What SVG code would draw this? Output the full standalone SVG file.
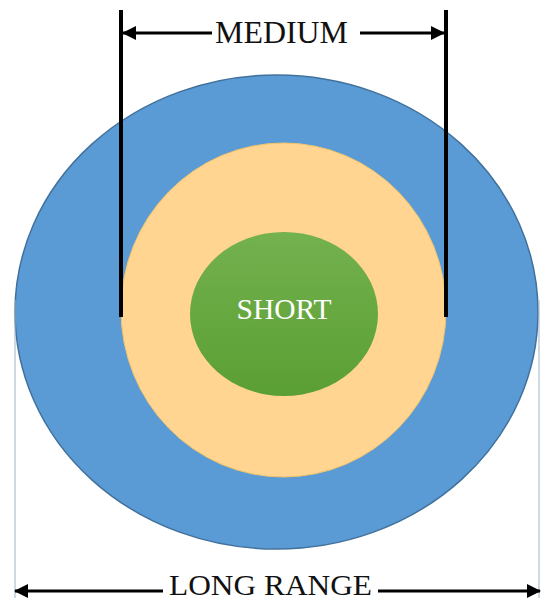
<svg xmlns="http://www.w3.org/2000/svg" width="541" height="600" viewBox="0 0 541 600">
<defs>
<linearGradient id="gGreen" x1="0" y1="0" x2="0" y2="1">
<stop offset="0" stop-color="#74b14f"/>
<stop offset="1" stop-color="#5a9f33"/>
</linearGradient>
<marker id="ah" viewBox="0 0 14 14" refX="13" refY="7" markerWidth="14" markerHeight="14" markerUnits="userSpaceOnUse" orient="auto-start-reverse">
<path d="M0,0 L14,7 L0,14 Z" fill="#000"/>
</marker>
<style>
.lbl{font-family:"Liberation Serif","Times New Roman",serif;fill:#111;}
.arr{stroke:#000;stroke-width:3;fill:none;}
.thin{stroke:#9fb3c8;stroke-width:1;}
.bar{stroke:#000;stroke-width:4;}
</style>
</defs>
<rect width="541" height="600" fill="#fff"/>
<g id="long">
<ellipse cx="276.5" cy="312" rx="261.5" ry="237" fill="#5b9bd5" stroke="#41719c" stroke-width="1.5"/>
</g>
<g id="medium">
<ellipse cx="283.5" cy="310" rx="162.5" ry="167" fill="#ffd591" stroke="#f4c46a" stroke-width="1"/>
</g>
<g id="short">
<ellipse cx="284" cy="314" rx="94" ry="82" fill="url(#gGreen)"/>
<text x="284" y="319" text-anchor="middle" font-family="Liberation Serif, Times New Roman, serif" font-size="29" fill="#fff" textLength="95" lengthAdjust="spacingAndGlyphs">SHORT</text>
</g>
<g id="connectors">
<line class="bar" x1="121" y1="10" x2="121" y2="317"/>
<line class="bar" x1="446" y1="10" x2="446" y2="317"/>
<line class="thin" x1="15" y1="300" x2="15" y2="598"/>
<line class="thin" x1="539" y1="300" x2="539" y2="598"/>
<line class="arr" x1="212" y1="33" x2="123" y2="33" marker-end="url(#ah)"/>
<line class="arr" x1="360" y1="33" x2="444" y2="33" marker-end="url(#ah)"/>
<line class="arr" x1="163" y1="591" x2="15" y2="591" marker-end="url(#ah)"/>
<line class="arr" x1="378" y1="591" x2="540" y2="591" marker-end="url(#ah)"/>
</g>
<text class="lbl" x="281.5" y="43" text-anchor="middle" font-size="31" textLength="133" lengthAdjust="spacingAndGlyphs">MEDIUM</text>
<text class="lbl" x="270.5" y="595" text-anchor="middle" font-size="30" textLength="203" lengthAdjust="spacingAndGlyphs">LONG RANGE</text>
</svg>
